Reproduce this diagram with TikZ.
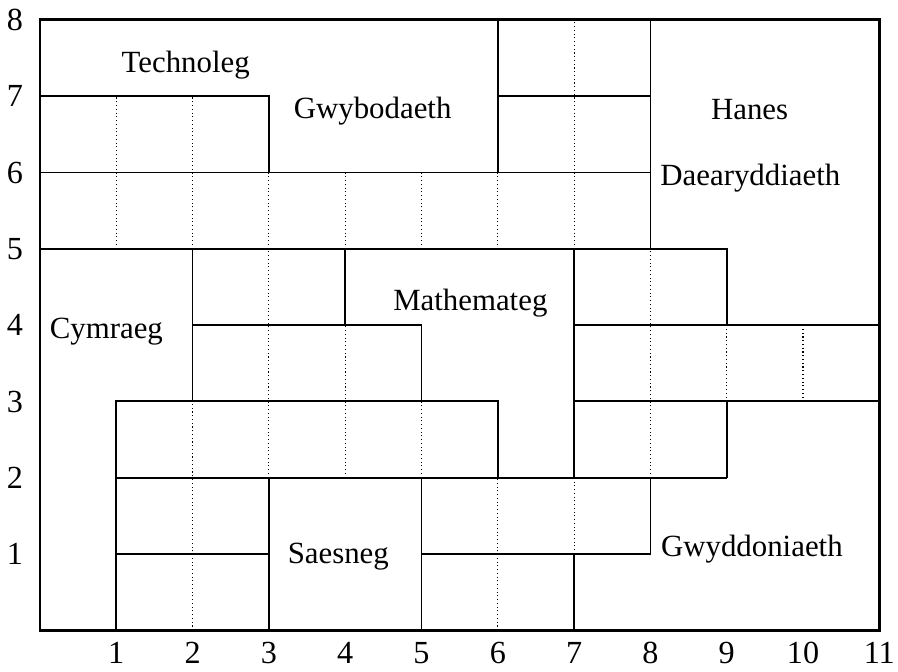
\documentclass[tikz,border=0pt]{standalone}
\usepackage{fontspec}
\setmainfont{Liberation Serif}

\begin{document}
\begin{tikzpicture}[
  x=1cm, y=1cm,
  frame/.style={line width=1pt},
  edge/.style={line width=0.65pt},
  cell/.style={line width=0.4pt, densely dotted},
  subject/.style={font=\fontsize{11.5}{14}\selectfont, inner sep=0pt},
  tick/.style={font=\fontsize{12}{14}\selectfont, inner sep=0pt, anchor=base}
]
\useasboundingbox (-0.524,-0.534) rectangle (11.245,8.26);
% dotted cell dividers
\foreach \x/\a/\b in {1/5/7, 2/5/7, 3/5/6, 4/5/6, 5/5/6, 6/5/6, 7/5/8, 3/2/5, 4/2/4,
  2/0/3, 5/2/3, 6/0/2, 7/1/2, 8/2/5, 9/3/4, 10/3/4}
  \draw[cell] (\x,\a) -- (\x,\b);
% subject boundaries
\draw[edge] (0,7) -- (3,7) -- (3,6);
\draw[edge] (6,8) -- (6,6);
\draw[edge] (0,6) -- (8,6);
\draw[edge] (6,7) -- (8,7);
\draw[edge] (8,8) -- (8,5);
\draw[edge] (0,5) -- (9,5) -- (9,4);
\draw[edge] (2,3) -- (2,5);
\draw[edge] (2,4) -- (5,4) -- (5,3);
\draw[edge] (4,5) -- (4,4);
\draw[edge] (1,0) -- (1,3) -- (6,3) -- (6,2);
\draw[edge] (7,5) -- (7,2);
\draw[edge] (7,4) -- (11,4);
\draw[edge] (7,3) -- (11,3);
\draw[edge] (9,3) -- (9,2);
\draw[edge] (1,2) -- (9,2);
\draw[edge] (1,1) -- (3,1);
\draw[edge] (3,0) -- (3,2);
\draw[edge] (5,0) -- (5,2);
\draw[edge] (5,1) -- (8,1) -- (8,2);
\draw[edge] (7,0) -- (7,1);
\draw[frame] (0,0) rectangle (11,8);
% subject names
\node[subject] (techno) at (1.91,7.40) {Technoleg};
\node[subject] (gwybod) at (4.36,6.81) {Gwybodaeth};
\node[subject] (hanes) at (9.30,6.83) {Hanes};
\node[subject] (daear) at (9.31,5.92) {Daearyddiaeth};
\node[subject] (mathem) at (5.64,4.29) {Mathemateg};
\node[subject] (cymraeg) at (0.87,3.92) {Cymraeg};
\node[subject] (saesneg) at (3.91,0.97) {Saesneg};
\node[subject] (gwydd) at (9.33,1.06) {Gwyddoniaeth};
% axis numbers
\foreach \i in {1,...,11}
  \node[tick] (bx\i) at (\i,-0.43) {\i};
\foreach \j in {1,...,8}
  \node[tick] (ly\j) at (-0.33,\j-0.14) {\j};
\end{tikzpicture}
\end{document}
